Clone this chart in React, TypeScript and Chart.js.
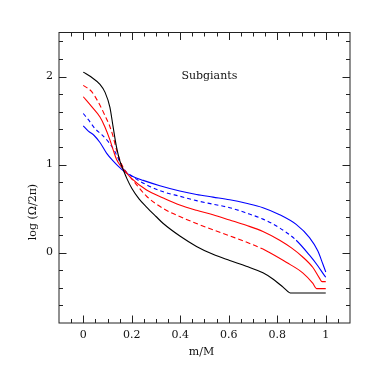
import React, { useEffect, useRef } from "react";
import { Chart, registerables } from "chart.js";

Chart.register(...registerables);

// Mass fraction (x) and log(Omega/2pi) (y) for each model
const blackX = [0, 0.03, 0.069, 0.09, 0.11, 0.123, 0.137, 0.151, 0.165, 0.18, 0.2, 0.23, 0.26, 0.3, 0.33, 0.4, 0.467, 0.535, 0.604, 0.672, 0.741, 0.782, 0.823, 0.85, 0.86, 1.0];
const blackY = [2.05, 2.0, 1.91, 1.82, 1.65, 1.43, 1.2, 1.04, 0.94, 0.84, 0.73, 0.61, 0.52, 0.41, 0.33, 0.185, 0.07, -0.02, -0.09, -0.155, -0.23, -0.3, -0.39, -0.455, -0.46, -0.46];

const redDashX = [0, 0.034, 0.062, 0.089, 0.11, 0.123, 0.137, 0.151, 0.17, 0.19, 0.22, 0.261, 0.33, 0.398, 0.467, 0.535, 0.604, 0.672, 0.741, 0.768, 0.837, 0.905, 0.947, 0.962, 1.0];
const redDashY = [1.9, 1.83, 1.71, 1.56, 1.43, 1.32, 1.17, 1.05, 0.94, 0.87, 0.77, 0.64, 0.5, 0.41, 0.33, 0.26, 0.19, 0.12, 0.04, 0.0, -0.11, -0.23, -0.35, -0.41, -0.41];

const redSolidX = [0, 0.034, 0.069, 0.089, 0.11, 0.123, 0.137, 0.155, 0.17, 0.2, 0.261, 0.33, 0.398, 0.467, 0.535, 0.604, 0.672, 0.741, 0.81, 0.86, 0.905, 0.947, 0.974, 0.985, 1.0];
const redSolidY = [1.77, 1.66, 1.54, 1.43, 1.28, 1.17, 1.06, 0.98, 0.93, 0.84, 0.71, 0.62, 0.54, 0.48, 0.43, 0.37, 0.31, 0.24, 0.14, 0.05, -0.05, -0.17, -0.29, -0.33, -0.33];

const blueDashX = [0, 0.021, 0.048, 0.076, 0.103, 0.13, 0.151, 0.17, 0.2, 0.261, 0.33, 0.398, 0.467, 0.535, 0.604, 0.672, 0.741, 0.81, 0.878, 0.933, 0.967, 0.992, 1.0];
const blueDashY = [1.58, 1.51, 1.41, 1.34, 1.26, 1.15, 1.03, 0.94, 0.87, 0.77, 0.69, 0.64, 0.59, 0.55, 0.51, 0.45, 0.38, 0.28, 0.14, -0.03, -0.15, -0.25, -0.28];

const blueSolidX = [0, 0.021, 0.045, 0.069, 0.096, 0.12, 0.145, 0.17, 0.2, 0.247, 0.316, 0.398, 0.467, 0.535, 0.604, 0.672, 0.741, 0.81, 0.878, 0.933, 0.967, 0.988, 1.0];
const blueSolidY = [1.44, 1.38, 1.33, 1.25, 1.13, 1.05, 0.98, 0.92, 0.87, 0.82, 0.76, 0.7, 0.66, 0.63, 0.6, 0.56, 0.51, 0.43, 0.32, 0.17, 0.02, -0.13, -0.22];

const xTickValues = [0, 0.2, 0.4, 0.6, 0.8, 1];
const xTickLabels = ["0", "0.2", "0.4", "0.6", "0.8", "1"];
const yTickValues = [0, 1, 2];
const yTickLabels = ["0", "1", "2"];

const xTitle = "m/M";
const yTitle = "log (\u03A9/2\u03C0)";
const panelLabel = "Subgiants";

const FONT = '11px "DejaVu Serif"';

function pts(xs: number[], ys: number[]) {
  return xs.map((x, i) => ({ x, y: ys[i] }));
}

export default function App() {
  const ref = useRef<HTMLCanvasElement>(null);

  useEffect(() => {
    if (!ref.current) return;

    const framePlugin = {
      id: "framePlugin",
      afterDatasetsDraw(chart: any) {
        const ctx = chart.ctx;
        const a = chart.chartArea;
        const xs = chart.scales.x;
        const ys = chart.scales.y;
        ctx.save();
        ctx.strokeStyle = "#222";
        ctx.lineWidth = 1;
        ctx.strokeRect(a.left, a.top, a.right - a.left, a.bottom - a.top);

        // x ticks every 0.05, major every 0.2
        ctx.beginPath();
        for (let i = -1; i <= 21; i++) {
          const v = i * 0.05;
          const px = Math.round(xs.getPixelForValue(v)) + 0.5;
          if (px <= a.left + 1 || px >= a.right - 1) continue;
          const major = i % 4 === 0 && i >= 0 && i <= 20;
          const len = major ? 7.5 : 4;
          ctx.moveTo(px, a.bottom);
          ctx.lineTo(px, a.bottom - len);
          ctx.moveTo(px, a.top);
          ctx.lineTo(px, a.top + len);
        }
        // y ticks every 0.2, major every 1
        for (let i = -4; i <= 12; i++) {
          const v = i * 0.2;
          const py = Math.round(ys.getPixelForValue(v)) + 0.5;
          if (py <= a.top + 1 || py >= a.bottom - 1) continue;
          const major = i % 5 === 0;
          const len = major ? 7.5 : 4;
          ctx.moveTo(a.left, py);
          ctx.lineTo(a.left + len, py);
          ctx.moveTo(a.right, py);
          ctx.lineTo(a.right - len, py);
        }
        ctx.stroke();

        ctx.fillStyle = "#111";
        ctx.font = FONT;
        ctx.textAlign = "center";
        ctx.textBaseline = "middle";
        xTickValues.forEach((v, i) => {
          ctx.fillText(xTickLabels[i], xs.getPixelForValue(v), a.bottom + 12);
        });
        ctx.textAlign = "right";
        yTickValues.forEach((v, i) => {
          ctx.fillText(yTickLabels[i], a.left - 6, ys.getPixelForValue(v));
        });

        ctx.textAlign = "center";
        ctx.fillText(xTitle, (a.left + a.right) / 2 - 3, a.bottom + 29);
        ctx.fillText(panelLabel, xs.getPixelForValue(0.52), ys.getPixelForValue(2.0));

        ctx.save();
        ctx.translate(a.left - 26, 212);
        ctx.rotate(-Math.PI / 2);
        ctx.fillText(yTitle, 0, 0);
        ctx.restore();

        ctx.restore();
      },
    };

    const lineBase = {
      pointRadius: 0,
      borderWidth: 1.1,
      fill: false,
      cubicInterpolationMode: "monotone" as const,
    };

    const chart = new Chart(ref.current, {
      type: "line",
      data: {
        datasets: [
          { ...lineBase, label: "black", data: pts(blackX, blackY), borderColor: "#000" },
          {
            ...lineBase,
            label: "red dashed",
            data: pts(redDashX, redDashY),
            borderColor: "rgb(255,0,0)",
            segment: { borderDash: (c: any) => (c.p0.parsed.x < 0.72 ? [5, 3] : []) },
          },
          { ...lineBase, label: "red", data: pts(redSolidX, redSolidY), borderColor: "rgb(255,0,0)" },
          {
            ...lineBase,
            label: "blue dashed",
            data: pts(blueDashX, blueDashY),
            borderColor: "rgb(0,0,255)",
            segment: { borderDash: (c: any) => (c.p0.parsed.x < 0.84 ? [4, 3] : []) },
          },
          { ...lineBase, label: "blue", data: pts(blueSolidX, blueSolidY), borderColor: "rgb(0,0,255)" },
        ],
      },
      options: {
        animation: false,
        responsive: false,
        layout: { padding: { left: 59, top: 32.5, right: 32, bottom: 59 } },
        plugins: { legend: { display: false }, tooltip: { enabled: false } },
        scales: {
          x: { type: "linear", min: -0.1, max: 1.1, display: false },
          y: { type: "linear", min: -0.8, max: 2.5, display: false },
        },
      },
      plugins: [framePlugin],
    });

    return () => chart.destroy();
  }, []);

  return (
    <canvas
      ref={ref}
      width={382}
      height={382}
      style={{ position: "fixed", left: 0, top: 0, width: 382, height: 382, background: "#fff" }}
    />
  );
}
